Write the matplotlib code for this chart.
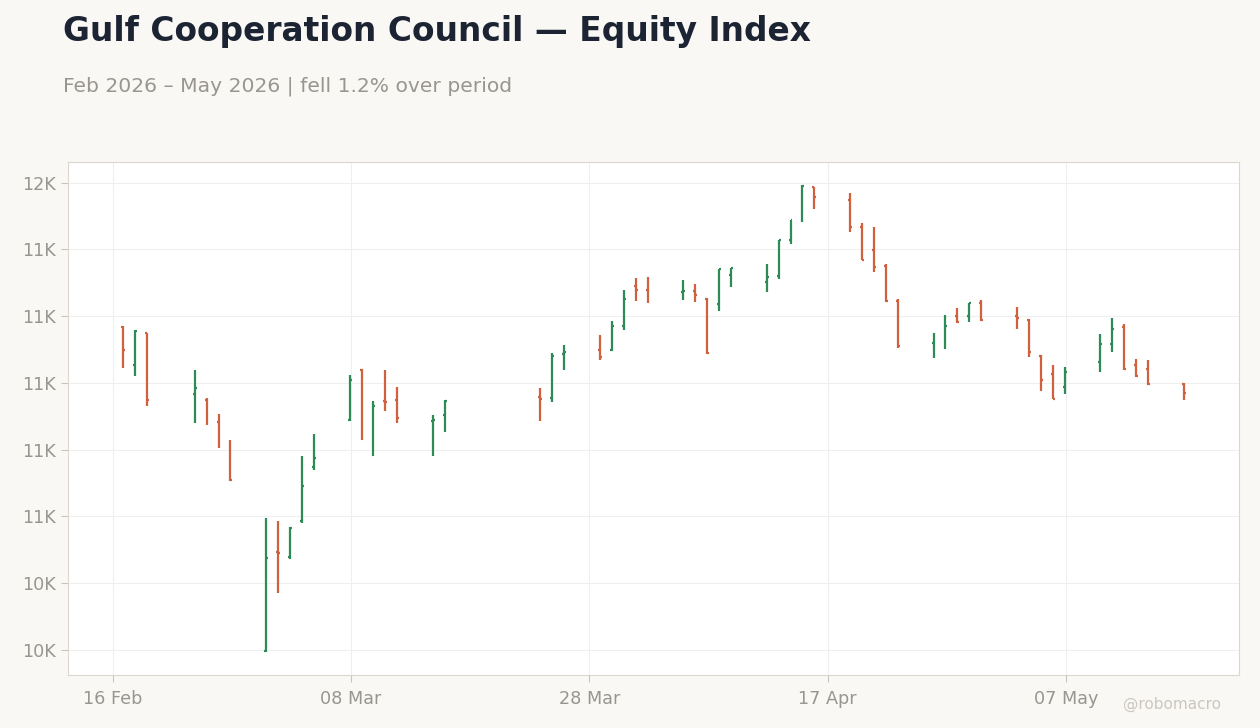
import matplotlib
import numpy as np
import pandas as pd
import matplotlib.dates as mdates
from matplotlib import pyplot as plt
from matplotlib.ticker import FuncFormatter

matplotlib.use("Agg")

UP_COLOR = "#2e8b57"
DOWN_COLOR = "#d0603e"
TEXT_MUTED = "#999690"

# trading days (Sun-Thu), local Riyadh time
dates = [
    "2026-02-17", "2026-02-18", "2026-02-19",
    "2026-02-23", "2026-02-24", "2026-02-25", "2026-02-26",
    "2026-03-01", "2026-03-02", "2026-03-03", "2026-03-04", "2026-03-05",
    "2026-03-08", "2026-03-09", "2026-03-10", "2026-03-11", "2026-03-12",
    "2026-03-15", "2026-03-16",
    "2026-03-24", "2026-03-25", "2026-03-26",
    "2026-03-29", "2026-03-30", "2026-03-31", "2026-04-01", "2026-04-02",
    "2026-04-05", "2026-04-06", "2026-04-07", "2026-04-08", "2026-04-09",
    "2026-04-12", "2026-04-13", "2026-04-14", "2026-04-15", "2026-04-16",
    "2026-04-19", "2026-04-20", "2026-04-21", "2026-04-22", "2026-04-23",
    "2026-04-26", "2026-04-27", "2026-04-28", "2026-04-29", "2026-04-30",
    "2026-05-03", "2026-05-04", "2026-05-05", "2026-05-06", "2026-05-07",
    "2026-05-10", "2026-05-11", "2026-05-12", "2026-05-13", "2026-05-14",
    "2026-05-17",
]

opens = [11167, 11053, 11148, 10966, 10948, 10882, 10824,
         10196, 10492, 10479, 10587, 10749,
         10888, 11038, 10785, 10945, 10948,
         10885, 10903,
         10957, 10954, 11086,
         11098, 11098, 11170, 11290, 11278,
         11272, 11275, 11251, 11235, 11322,
         11302, 11320, 11428, 11485, 11587,
         11548, 11467, 11398, 11350, 11245,
         11119, 11137, 11200, 11200, 11239,
         11200, 11188, 11080, 11026, 10986,
         11062, 11116, 11167, 11053, 11041,
         10996]
highs = [11170, 11158, 11150, 11037, 10955, 10905, 10829,
         10595, 10586, 10567, 10781, 10848,
         11022, 11042, 10946, 11037, 10986,
         10902, 10948,
         10983, 11088, 11112,
         11142, 11184, 11277, 11313, 11316,
         11307, 11295, 11253, 11342, 11345,
         11355, 11429, 11489, 11592, 11588,
         11568, 11478, 11466, 11355, 11250,
         11148, 11202, 11223, 11240, 11249,
         11226, 11190, 11082, 11052, 11046,
         11145, 11193, 11175, 11070, 11067,
         10998]
lows = [11044, 11020, 10930, 10879, 10873, 10804, 10705,
        10194, 10369, 10472, 10579, 10738,
        10886, 10830, 10780, 10915, 10879,
        10780, 10852,
        10884, 10942, 11038,
        11068, 11096, 11158, 11245, 11239,
        11248, 11242, 11087, 11215, 11287,
        11272, 11311, 11416, 11483, 11520,
        11452, 11367, 11332, 11242, 11104,
        11074, 11101, 11179, 11182, 11186,
        11161, 11077, 10975, 10950, 10966,
        11032, 11092, 11038, 11018, 10993,
        10948]
closes = [11097, 11156, 10948, 10984, 10909, 10848, 10710,
          10476, 10489, 10565, 10692, 10776,
          11007, 10832, 10930, 10942, 10893,
          10887, 10946,
          10951, 11080, 11092,
          11076, 11170, 11251, 11278, 11269,
          11274, 11263, 11089, 11341, 11344,
          11317, 11428, 11488, 11591, 11556,
          11467, 11369, 11346, 11244, 11109,
          11122, 11170, 11181, 11239, 11188,
          11194, 11092, 11008, 10952, 11032,
          11116, 11161, 11040, 11019, 10995,
          10969]

tick_dates = ["2026-02-16", "2026-03-08", "2026-03-28", "2026-04-17", "2026-05-07"]


def k_label(value, _pos):
    return f"{value / 1000:.0f}K"


def plot_ohlc(ax):
    stamps = pd.to_datetime(dates).tz_localize("Asia/Riyadh").tz_convert(None)
    x = mdates.date2num(stamps.to_pydatetime())
    o, h, l, c = (np.array(a, dtype=float) for a in (opens, highs, lows, closes))
    colors = np.where(c >= o, UP_COLOR, DOWN_COLOR)
    tick = 0.16
    ax.vlines(x, l, h, colors=colors, linewidth=1.6)
    ax.hlines(o, x - tick, x, colors=colors, linewidth=1.6)
    ax.hlines(c, x, x + tick, colors=colors, linewidth=1.6)


fig = plt.figure(figsize=(12.6, 7.28), dpi=100, facecolor="#f9f8f5")
ax = fig.add_axes([0.054, 0.0728, 0.9293, 0.7047])
ax.set_facecolor("white")

plot_ohlc(ax)

ax.set_xticks(mdates.date2num(pd.to_datetime(tick_dates).to_pydatetime()))
ax.xaxis.set_major_formatter(mdates.DateFormatter("%d %b"))
ax.yaxis.set_major_locator(matplotlib.ticker.MultipleLocator(200))
ax.yaxis.set_major_formatter(FuncFormatter(k_label))

ax.grid(True, color="#efefef", linewidth=0.8)
ax.set_axisbelow(True)
for spine in ax.spines.values():
    spine.set_color("#ddd6cd")
ax.tick_params(colors="#c8c4bd", labelcolor=TEXT_MUTED, labelsize=12.7, length=5)
ax.tick_params(axis="x", pad=6)

fig.text(0.05, 0.957, "Gulf Cooperation Council — Equity Index", fontsize=23.7,
         fontweight="bold", color="#1c2433", va="center", ha="left")
fig.text(0.05, 0.882, "Feb 2026 – May 2026 | fell 1.2% over period", fontsize=14.6,
         color=TEXT_MUTED, va="center", ha="left")
fig.text(0.969, 0.032, "@robomacro", fontsize=11, color="#cbc7c0",
         va="center", ha="right")

fig.savefig("out.png", dpi=100, facecolor=fig.get_facecolor())
